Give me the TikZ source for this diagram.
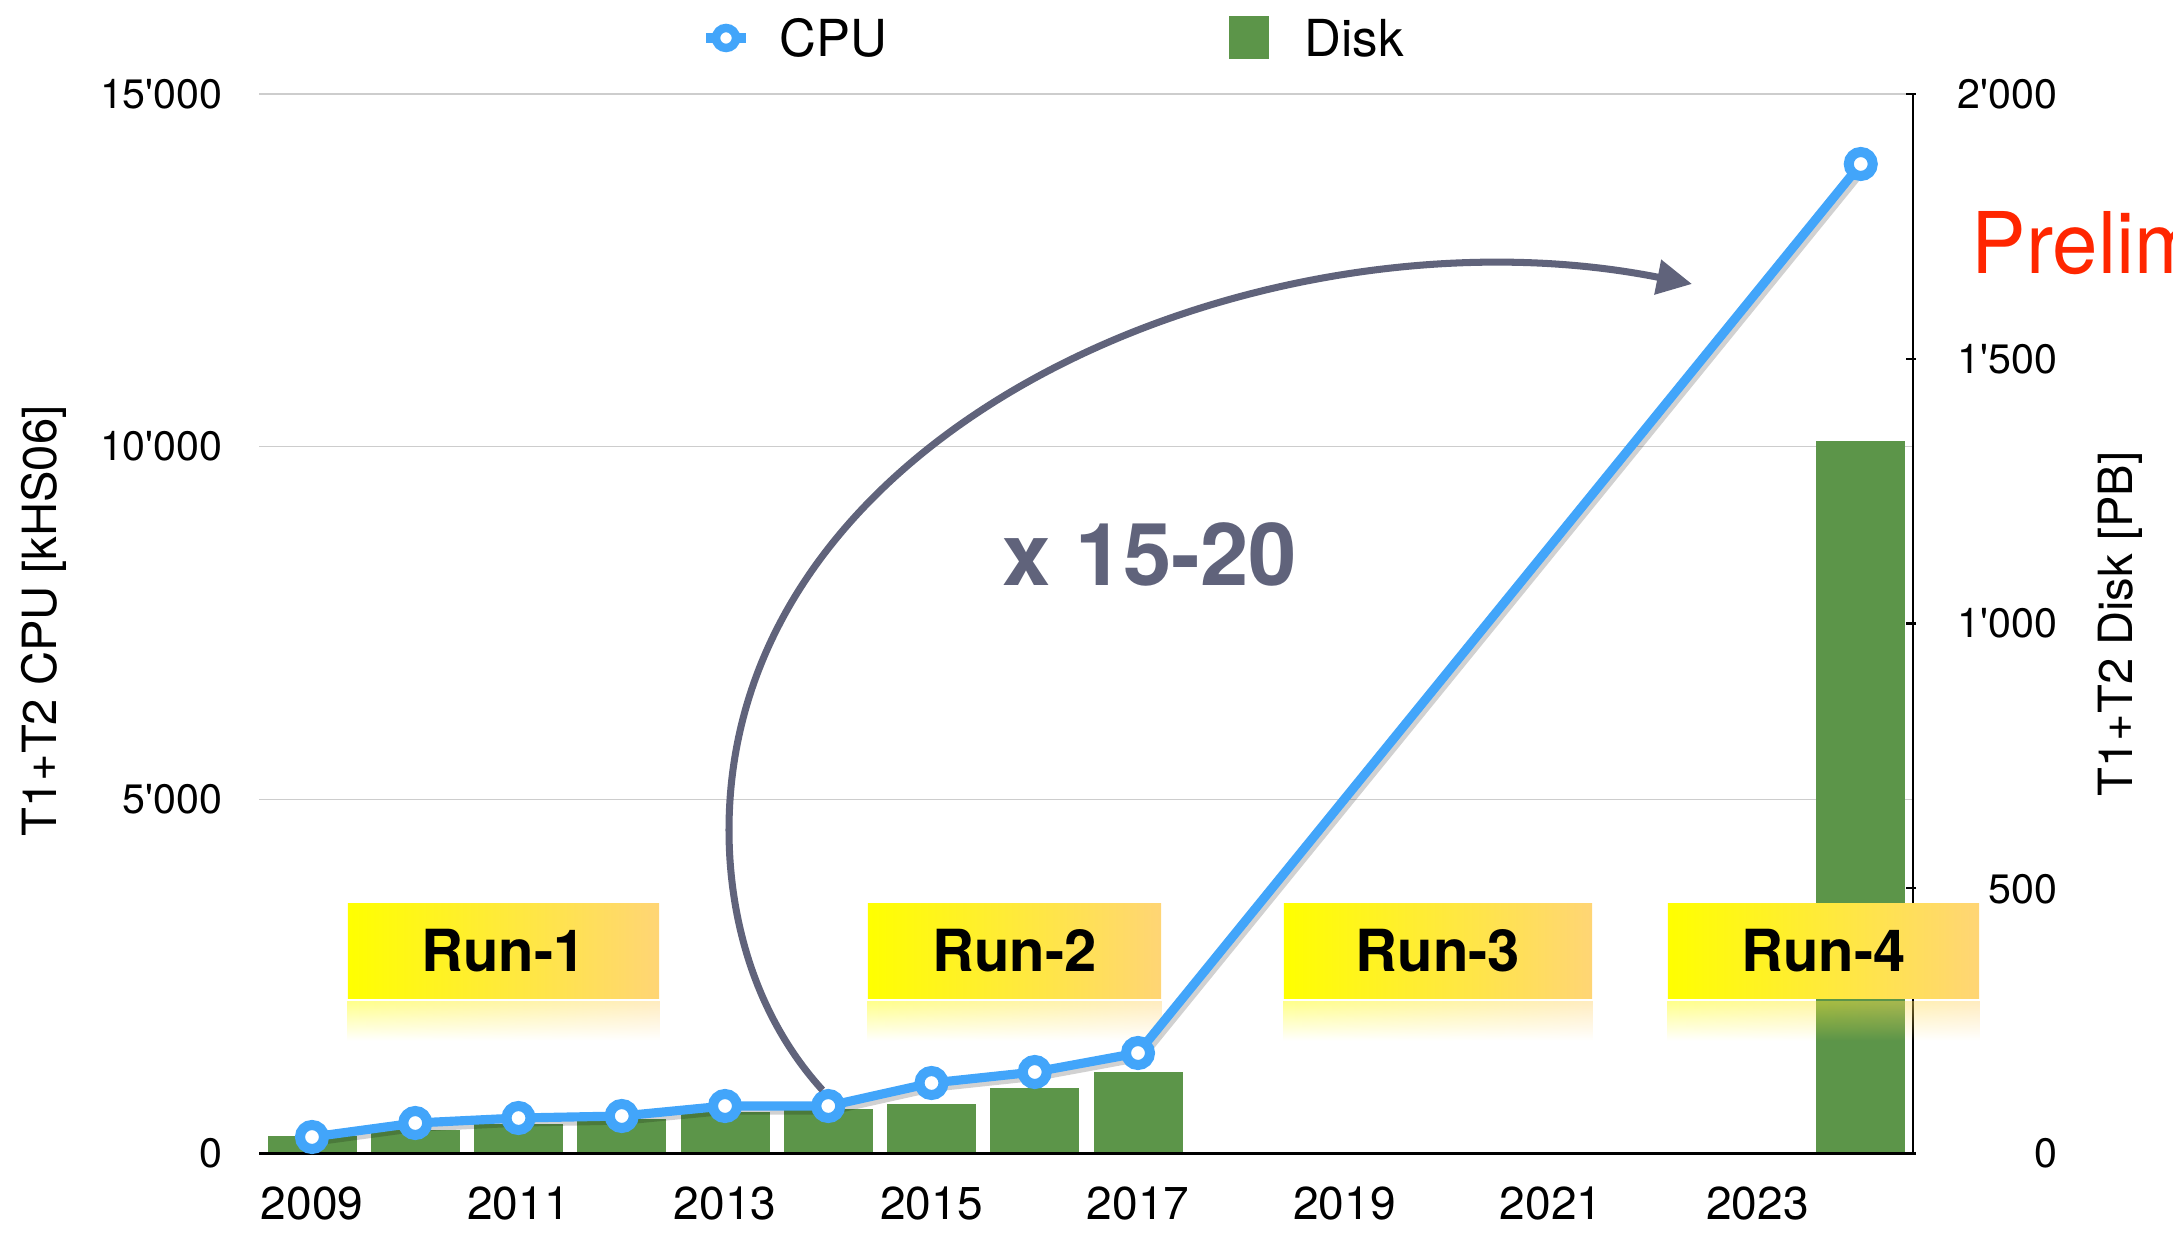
\documentclass[tikz,border=0pt]{standalone}
\usepackage{fontspec}
\setmainfont{TeX Gyre Heros}
\usetikzlibrary{arrows.meta,fadings}
\definecolor{cpublue}{RGB}{66,165,250}
\definecolor{diskgreen}{RGB}{92,149,73}
\definecolor{gridgray}{RGB}{205,205,205}
\definecolor{arrowgray}{RGB}{96,99,123}
\definecolor{runorange}{RGB}{255,213,117}
\definecolor{prelimred}{RGB}{255,38,0}
\newcommand\qq{\textquotesingle}
\begin{document}
\begin{tikzpicture}[x=0.01cm,y=-0.01cm,
  ticklbl/.style={font=\fontsize{11.7}{14}\selectfont, inner sep=0},
  yearlbl/.style={font=\fontsize{13.1}{15}\selectfont, inner sep=0},
  axtitle/.style={font=\fontsize{13.4}{16}\selectfont, rotate=90, inner sep=0},
  legendlbl/.style={font=\fontsize{14.5}{17}\selectfont, inner sep=0, anchor=west},
  bar/.style={fill=diskgreen},
  gridln/.style={draw=gridgray, line width=0.45pt},
  cpuline/.style={draw=cpublue, line width=2.6pt, line join=round, line cap=round},
  cpumark/.style={circle, draw=cpublue, fill=white, line width=2.85pt, minimum size=0.24cm, inner sep=0},
  runbox/.style={left color=yellow, right color=runorange, minimum height=0.94cm, font=\bfseries\fontsize{16.5}{20}\selectfont, inner sep=0},
  reflect/.style={left color=yellow, right color=runorange, path fading=south, opacity=0.45},
]
\useasboundingbox (0,0) rectangle (2173,1240);
\clip (0,0) rectangle (2173,1240);

% grid lines
\foreach \yy in {94,446.5,799.5} \draw[gridln] (259,\yy) -- (1912,\yy);

% bars (disk)
\foreach \xc/\top in {312/1136, 415.25/1130, 518.5/1124, 621.75/1119, 725/1112, 828.25/1109, 931.5/1104, 1034.75/1088, 1138/1072, 1860.75/441}
  \fill[bar] (\xc-44.5,\top) rectangle (\xc+44.5,1153);

% axes
\draw[line width=0.85pt] (259,1153) -- (1916,1153);
\draw[line width=0.7pt] (1913,94) -- (1913,1153);
\foreach \yy in {94,358.75,623.5,888.25,1153} \draw[line width=0.7pt] (1906,\yy) -- (1916,\yy);

% left tick labels
\node[ticklbl, anchor=east] (l15) at (223,94) {15\qq000};
\node[ticklbl, anchor=east] (l10) at (223,446.5) {10\qq000};
\node[ticklbl, anchor=east] (l5) at (223,799.5) {5\qq000};
\node[ticklbl, anchor=east] (l0) at (223,1153) {0};

% right tick labels
\node[ticklbl, anchor=east] (r2000) at (2058,94) {2\qq000};
\node[ticklbl, anchor=east] (r1500) at (2058,358.75) {1\qq500};
\node[ticklbl, anchor=east] (r1000) at (2058,623.5) {1\qq000};
\node[ticklbl, anchor=east] (r500) at (2058,889) {500};
\node[ticklbl, anchor=east] (r0) at (2058,1153) {0};

% years
\foreach \yr/\xc in {2009/312, 2011/518.5, 2013/725, 2015/931.5, 2017/1138, 2019/1344.5, 2021/1551, 2023/1757.5}
  \node[yearlbl] (y\yr) at (\xc,1204) {\yr};

% axis titles
\node[axtitle] (ltitle) at (44,621) {T1+T2 CPU [kHS06]};
\node[axtitle] (rtitle) at (2120,624) {T1+T2 Disk [PB]};

% run boxes
\node[runbox, minimum width=3.11cm] (run1) at (503.5,951) {Run-1};
\node[runbox, minimum width=2.93cm] (run2) at (1014.5,951) {Run-2};
\node[runbox, minimum width=3.08cm] (run3) at (1438,951) {Run-3};
\node[runbox, minimum width=3.11cm] (run4) at (1823.5,951) {Run-4};
\foreach \r in {run1,run2,run3,run4}
  \path[reflect] ([yshift=-0.03cm]\r.south west) rectangle ([yshift=-0.42cm]\r.south east);

% CPU points
\coordinate (c2009) at (312,1137);
\coordinate (c2010) at (415.25,1123);
\coordinate (c2011) at (518.5,1118);
\coordinate (c2012) at (621.75,1116);
\coordinate (c2013) at (725,1106);
\coordinate (c2014) at (828.25,1106);
\coordinate (c2015) at (931.5,1083);
\coordinate (c2016) at (1034.75,1072);
\coordinate (c2017) at (1138,1053);
\coordinate (c2024) at (1860.75,164);

\begin{scope}[transform canvas={xshift=0.03cm,yshift=-0.04cm}]
\draw[cpuline, draw=black, opacity=0.18] (c2009) -- (c2010) -- (c2011) -- (c2012) -- (c2013) -- (c2014) -- (c2015) -- (c2016) -- (c2017) -- (c2024);
\end{scope}
\draw[cpuline] (c2009) -- (c2010) -- (c2011) -- (c2012) -- (c2013) -- (c2014) -- (c2015) -- (c2016) -- (c2017) -- (c2024);
\foreach \yr in {2009,2010,2011,2012,2013,2014,2015,2016,2017,2024}
  \node[cpumark] (m\yr) at (c\yr) {};

% growth arrow
\coordinate (arrtip) at (1692,284);
\draw[arrowgray, line width=2pt, -{Triangle[length=0.35cm,width=0.34cm]}]
  (m2014.110) .. controls (758,1019) and (729,924) .. (729,830)
  .. controls (729,420) and (1270,200) .. (arrtip);
\node[font=\bfseries\fontsize{24.7}{28}\selectfont, text=arrowgray, inner sep=0] (factor) at (1150,554) {x 15-20};

% preliminary
\node[font=\fontsize{24.2}{28}\selectfont, text=prelimred, inner sep=0, anchor=base west, xscale=0.96] (prelim) at (1971,274) {Prelim};

% legend
\draw[cpuline, line cap=butt] (706,38) -- (746,38);
\node[cpumark, minimum size=0.2cm, line width=2.4pt] (legcpu) at (726,38) {};
\node[legendlbl] (legcputxt) at (779,38) {CPU};
\fill[diskgreen] (1229,16) rectangle (1269,59);
\node[legendlbl] (legdisktxt) at (1304,38) {Disk};
\end{tikzpicture}
\end{document}
